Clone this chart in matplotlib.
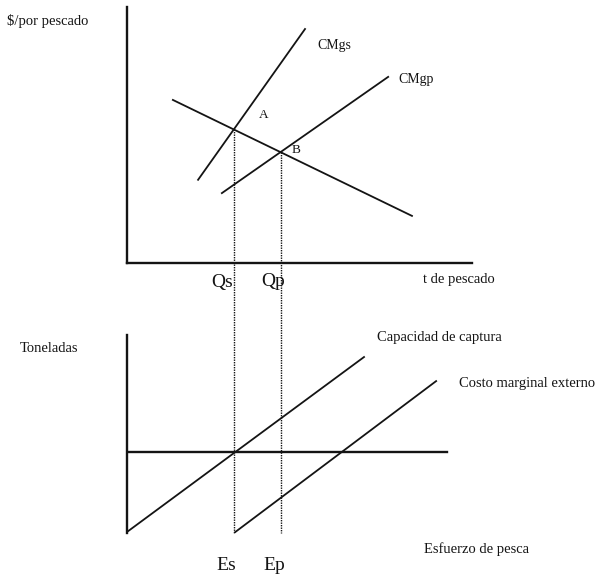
import numpy as np
from matplotlib import pyplot as plt

# Panel superior: demanda y costos marginales (unidades arbitrarias)
demanda_x = [1.33, 8.26]
demanda_y = [6.37, 1.84]
cmgs_x = [2.06, 5.16]
cmgs_y = [3.25, 9.14]
cmgp_x = [2.75, 7.57]
cmgp_y = [2.73, 7.27]
eje_sup_x = [0, 10]
eje_sup_y = [0, 10]

# Panel inferior: esfuerzo de pesca
captura_x = [0.03, 6.87]
captura_y = [-3.09, 3.71]
externo_x = [3.13, 8.96]
externo_y = [-3.13, 2.77]
horizontal_x = [0, 9.28]
horizontal_y = [0, 0]
eje_inf_y = [-3.16, 4.57]

W, H = 601, 574
INK = '#141414'
FONT = ['Liberation Serif', 'DejaVu Serif']
plt.rcParams['font.family'] = FONT


def cruce(x1, y1, x2, y2):
    # punto donde se cortan dos rectas dadas por sus extremos
    m1 = (y1[1] - y1[0]) / (x1[1] - x1[0])
    m2 = (y2[1] - y2[0]) / (x2[1] - x2[0])
    b1 = y1[0] - m1 * x1[0]
    b2 = y2[0] - m2 * x2[0]
    x = (b2 - b1) / (m1 - m2)
    return x, m1 * x + b1


def px_rect(left, top, right, bottom):
    return [left / W, 1 - bottom / H, (right - left) / W, (bottom - top) / H]


fig = plt.figure(figsize=(W / 100, H / 100), dpi=100)
ax1 = fig.add_axes(px_rect(127, 7, 472, 263))
ax2 = fig.add_axes(px_rect(127, 335, 472, 533))

for ax in (ax1, ax2):
    for s in ('top', 'right'):
        ax.spines[s].set_visible(False)
    ax.set_xticks([])
    ax.set_yticks([])
    ax.spines['left'].set_linewidth(1.7)
    ax.spines['left'].set_color(INK)
    ax.spines['bottom'].set_linewidth(1.7)
    ax.spines['bottom'].set_color(INK)
    ax.set_facecolor('none')
ax2.spines['bottom'].set_visible(False)

ax1.set_xlim(eje_sup_x)
ax1.set_ylim(eje_sup_y)
ax2.set_xlim(eje_sup_x)
ax2.set_ylim(eje_inf_y)

lw = 1.3
ax1.plot(demanda_x, demanda_y, color=INK, lw=lw)
ax1.plot(cmgs_x, cmgs_y, color=INK, lw=lw)
ax1.plot(cmgp_x, cmgp_y, color=INK, lw=lw)

ax2.plot(captura_x, captura_y, color=INK, lw=lw)
ax2.plot(externo_x, externo_y, color=INK, lw=lw)
ax2.plot(horizontal_x, horizontal_y, color=INK, lw=1.7)

# Puntos A y B
qs, pa = cruce(demanda_x, demanda_y, cmgs_x, cmgs_y)
qp, pb = cruce(demanda_x, demanda_y, cmgp_x, cmgp_y)

# las punteadas bajan hasta el final del panel inferior
y_fondo = ax1.transData.inverted().transform(
    ax2.transData.transform((0, eje_inf_y[0])))[1]
for q, p in ((qs, pa), (qp, pb)):
    ax1.plot([q, q], [p, y_fondo], color=INK, lw=1.0,
             linestyle=(0, (1, 0.8)), clip_on=False)

ax1.annotate('A', (qs, pa), xytext=(30, 14), textcoords='offset pixels',
             ha='center', va='center', fontsize=9.5, color=INK)
ax1.annotate('B', (qp, pb), xytext=(16, 2), textcoords='offset pixels',
             ha='center', va='center', fontsize=9.5, color=INK)

ax1.annotate('Qs', (qs, 0), xytext=(-12, -19), textcoords='offset pixels',
             ha='center', va='center', fontsize=14, color=INK)
ax1.annotate('Qp', (qp, 0), xytext=(-7, -19), textcoords='offset pixels',
             ha='center', va='center', fontsize=14, color=INK)
ax2.annotate('Es', (qs, eje_inf_y[0]), xytext=(-8, -32), textcoords='offset pixels',
             ha='center', va='center', fontsize=14, color=INK)
ax2.annotate('Ep', (qp, eje_inf_y[0]), xytext=(-6, -32), textcoords='offset pixels',
             ha='center', va='center', fontsize=14, color=INK)

ax1.annotate('CMgs', (cmgs_x[1], cmgs_y[1]), xytext=(12, -16), textcoords='offset pixels',
             ha='left', va='center', fontsize=10, color=INK)
ax1.annotate('CMgp', (cmgp_x[1], cmgp_y[1]), xytext=(10, -3), textcoords='offset pixels',
             ha='left', va='center', fontsize=10, color=INK)


def rotulo(x, y, s):
    fig.text(x / W, 1 - y / H, s, ha='left', va='center', fontsize=10.5, color=INK)


rotulo(7, 21, '$/por pescado')
rotulo(423, 279, 't de pescado')
rotulo(20, 348, 'Toneladas')
rotulo(377, 338, 'Capacidad de captura')
rotulo(459, 383, 'Costo marginal externo')
rotulo(424, 549, 'Esfuerzo de pesca')

fig.savefig('out.png', dpi=100)
